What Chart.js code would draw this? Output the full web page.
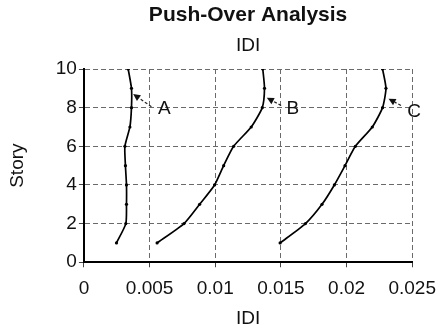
<!DOCTYPE html>
<html>
<head>
<meta charset="utf-8">
<script src="https://cdn.jsdelivr.net/npm/chart.js@4/dist/chart.umd.min.js"></script>
<style>
html,body{margin:0;padding:0;background:#fff;}
#wrap{width:438px;height:332px;}
</style>
</head>
<body>
<div id="wrap"><canvas id="c" width="438" height="332"></canvas></div>
<script>
const stories = [1, 2, 3, 4, 5, 6, 7, 8, 9, 10];
const idiA = [0.00248, 0.00319, 0.00324, 0.00324, 0.00316, 0.00312, 0.0035, 0.00362, 0.00362, 0.00337];
const idiB = [0.00557, 0.00762, 0.00881, 0.00995, 0.01064, 0.0114, 0.01274, 0.01358, 0.01375, 0.01362];
const idiC = [0.01494, 0.01687, 0.01813, 0.01907, 0.01988, 0.02067, 0.02196, 0.02274, 0.0230, 0.02274];
const xTickLabels = ['0', '0.005', '0.01', '0.015', '0.02', '0.025'];
const yTickLabels = ['0', '2', '4', '6', '8', '10'];
const labelNames = ['A', 'B', 'C'];
const labelX = [0.00612, 0.0159, 0.02515];
const labelY = [7.93, 7.94, 7.77];
const arrowTailX = [0.00514, 0.01502, 0.02414];
const arrowTailY = [8.05, 8.11, 8.11];
const arrowHeadX = [0.00375, 0.01393, 0.0232];
const arrowHeadY = [8.7, 8.51, 8.46];

const FONT = "'Liberation Sans', Arial, Helvetica, sans-serif";

function pts(xs) { return xs.map((x, i) => ({ x: x, y: stories[i] })); }

function ds(label, xs) {
  return {
    label: label,
    data: pts(xs),
    showLine: true,
    borderColor: '#000',
    backgroundColor: '#000',
    borderWidth: 1.7,
    pointRadius: 1.6,
    pointBorderWidth: 0,
    tension: 0.2
  };
}

const annotPlugin = {
  id: 'annot',
  afterDatasetsDraw(chart) {
    const ctx = chart.ctx;
    const xs = chart.scales.x, ys = chart.scales.y;
    ctx.save();
    for (let i = 0; i < labelNames.length; i++) {
      const tx = xs.getPixelForValue(arrowTailX[i]), ty = ys.getPixelForValue(arrowTailY[i]);
      const hx = xs.getPixelForValue(arrowHeadX[i]), hy = ys.getPixelForValue(arrowHeadY[i]);
      const ang = Math.atan2(hy - ty, hx - tx);
      const hl = 7, hw = 3.5;
      const bx = hx - hl * Math.cos(ang), by = hy - hl * Math.sin(ang);
      ctx.strokeStyle = '#222';
      ctx.lineWidth = 1.2;
      ctx.setLineDash([3, 2]);
      ctx.beginPath();
      ctx.moveTo(tx, ty);
      ctx.lineTo(bx, by);
      ctx.stroke();
      ctx.setLineDash([]);
      ctx.fillStyle = '#111';
      ctx.beginPath();
      ctx.moveTo(hx, hy);
      ctx.lineTo(bx + hw * Math.sin(ang), by - hw * Math.cos(ang));
      ctx.lineTo(bx - hw * Math.sin(ang), by + hw * Math.cos(ang));
      ctx.closePath();
      ctx.fill();
      ctx.font = '19px ' + FONT;
      ctx.textAlign = 'center';
      ctx.textBaseline = 'middle';
      ctx.fillStyle = '#111';
      ctx.fillText(labelNames[i], xs.getPixelForValue(labelX[i]), ys.getPixelForValue(labelY[i]));
    }
    ctx.restore();
  }
};

new Chart(document.getElementById('c'), {
  type: 'scatter',
  data: { datasets: [ds('A', idiA), ds('B', idiB), ds('C', idiC)] },
  options: {
    responsive: false,
    animation: false,
    devicePixelRatio: 1,
    layout: { padding: { left: 6, right: 0, top: 2, bottom: 2 } },
    plugins: {
      legend: { display: false },
      tooltip: { enabled: false },
      title: {
        display: true,
        text: 'Push-Over Analysis',
        fullSize: false,
        color: '#111',
        font: { family: FONT, size: 21, weight: 'bold' },
        padding: { top: 1, bottom: 6 }
      }
    },
    scales: {
      x: {
        type: 'linear',
        position: 'bottom',
        min: 0, max: 0.025,
        ticks: {
          stepSize: 0.005,
          color: '#111',
          font: { family: FONT, size: 19, lineHeight: 2.05 },
          padding: 2,
          maxRotation: 0,
          callback: (v, i) => xTickLabels[i]
        },
        grid: { color: '#6a6a6a', lineWidth: 1, tickLength: 5, tickColor: '#444' },
        border: { display: true, color: '#000', width: 2, dash: [5, 3] },
        title: { display: true, text: 'IDI', color: '#111', font: { family: FONT, size: 19 }, padding: { top: -3, bottom: 0 } }
      },
      x2: {
        type: 'linear',
        position: 'top',
        min: 0, max: 0.025,
        ticks: { display: false },
        grid: { display: false },
        border: { display: false },
        title: { display: true, text: 'IDI', color: '#111', font: { family: FONT, size: 19 }, padding: { top: 0, bottom: 4 } }
      },
      y: {
        type: 'linear',
        min: 0, max: 10,
        ticks: {
          stepSize: 2,
          color: '#111',
          font: { family: FONT, size: 19 },
          padding: 2,
          callback: (v, i) => yTickLabels[i]
        },
        grid: { color: '#6a6a6a', lineWidth: 1, tickLength: 5, tickColor: '#444' },
        border: { display: true, color: '#000', width: 2, dash: [5, 3] },
        title: { display: true, text: 'Story', color: '#111', font: { family: FONT, size: 19 }, padding: { top: 0, bottom: 25 } }
      }
    }
  },
  plugins: [annotPlugin]
});
</script>
</body>
</html>
